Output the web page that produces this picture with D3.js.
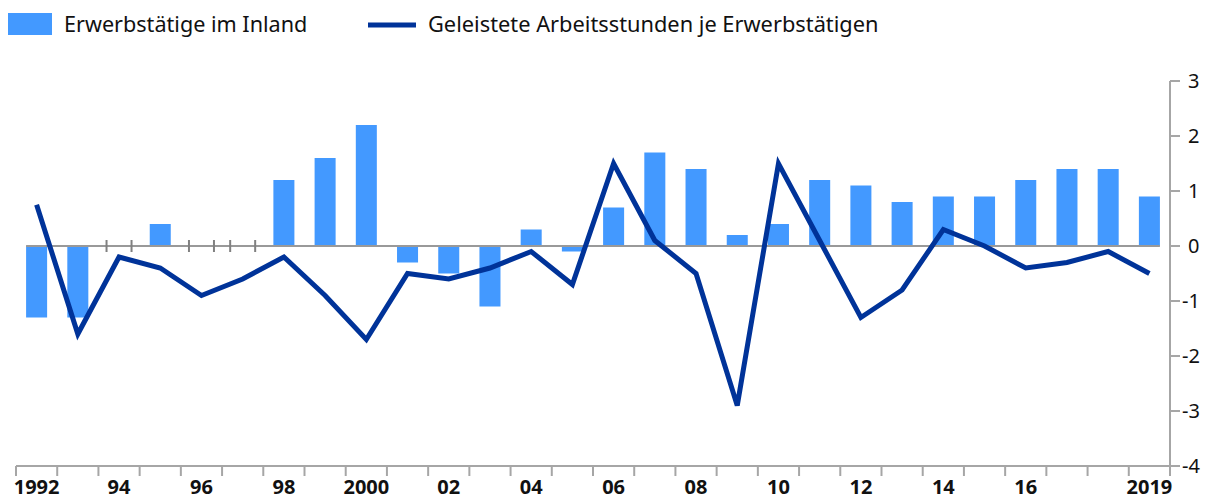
<!DOCTYPE html>
<html>
<head>
<meta charset="utf-8">
<script src="https://cdn.jsdelivr.net/npm/d3@7"></script>
<style>
  body { margin: 0; background: #fff; }
  text { font-family: "Noto Sans", sans-serif; fill: #111; }
</style>
</head>
<body>
<div id="chart"></div>
<script>
// Daten: Veränderung gegenüber Vorjahr in %
const years = d3.range(1992, 2020);
const erwerbstaetige = [-1.3, -1.3, 0, 0.4, 0, 0, 1.2, 1.6, 2.2, -0.3,
  -0.5, -1.1, 0.3, -0.1, 0.7, 1.7, 1.4, 0.2, 0.4, 1.2,
  1.1, 0.8, 0.9, 0.9, 1.2, 1.4, 1.4, 0.9];
const arbeitsstunden = [0.75, -1.6, -0.2, -0.4, -0.9, -0.6, -0.2, -0.9, -1.7, -0.5,
  -0.6, -0.4, -0.1, -0.7, 1.5, 0.1, -0.5, -2.9, 1.5, 0.1,
  -1.3, -0.8, 0.3, 0, -0.4, -0.3, -0.1, -0.5];
const xLabels = ["1992", "94", "96", "98", "2000", "02", "04", "06", "08", "10", "12", "14", "16", "2019"];
const labelYears = [1992, 1994, 1996, 1998, 2000, 2002, 2004, 2006, 2008, 2010, 2012, 2014, 2016, 2019];
const yTicks = [3, 2, 1, 0, -1, -2, -3, -4];
const seriesNames = ["Erwerbstätige im Inland", "Geleistete Arbeitsstunden je Erwerbstätigen"];

const width = 1214, height = 499;
const barColor = "#4399ff", lineColor = "#003399", axisColor = "#a6a6a6";

const svg = d3.select("#chart").append("svg")
    .attr("width", width)
    .attr("height", height);

const x = d3.scaleBand()
    .domain(years)
    .range([16, 1170])
    .paddingInner(0.49)
    .paddingOuter(0.245);

const y = d3.scaleLinear()
    .domain([-4, 3])
    .range([466, 81]);

const step = x.step();
const cx = d => x(d) + x.bandwidth() / 2;

// Balken
svg.append("g")
  .selectAll("rect")
  .data(years.filter((d, i) => erwerbstaetige[i] !== 0))
  .join("rect")
    .attr("x", d => x(d))
    .attr("width", x.bandwidth())
    .attr("y", d => y(Math.max(0, erwerbstaetige[years.indexOf(d)])))
    .attr("height", d => Math.abs(y(erwerbstaetige[years.indexOf(d)]) - y(0)))
    .attr("fill", barColor);

// Nulllinie
svg.append("line")
    .attr("x1", x(years[0]))
    .attr("x2", x(years[years.length - 1]) + x.bandwidth())
    .attr("y1", y(0)).attr("y2", y(0))
    .attr("stroke", "#999")
    .attr("stroke-width", 2);

// kleine Striche bei Nullwerten
const zeroYears = years.filter((d, i) => erwerbstaetige[i] === 0);
svg.append("g")
  .selectAll("line")
  .data(zeroYears.flatMap(d => [cx(d) - 12.5, cx(d) + 12.5]))
  .join("line")
    .attr("x1", d => d).attr("x2", d => d)
    .attr("y1", y(0) - 6).attr("y2", y(0) + 6)
    .attr("stroke", "#808080")
    .attr("stroke-width", 2);

// Linie
const line = d3.line()
    .x((d, i) => cx(years[i]))
    .y(d => y(d));

svg.append("path")
    .datum(arbeitsstunden)
    .attr("d", line)
    .attr("fill", "none")
    .attr("stroke", lineColor)
    .attr("stroke-width", 5);

// rechte Achse
const yAxis = svg.append("g");
yAxis.append("line")
    .attr("x1", 1170).attr("x2", 1170)
    .attr("y1", y(3)).attr("y2", y(-4))
    .attr("stroke", axisColor).attr("stroke-width", 2);
yAxis.selectAll("line.tick")
  .data(yTicks)
  .join("line")
    .attr("class", "tick")
    .attr("x1", 1170).attr("x2", 1180)
    .attr("y1", d => y(d)).attr("y2", d => y(d))
    .attr("stroke", axisColor).attr("stroke-width", 2);
yAxis.selectAll("text")
  .data(yTicks)
  .join("text")
    .attr("x", d => d < 0 ? 1182 : 1188)
    .attr("y", d => y(d))
    .attr("dy", "0.35em")
    .style("font-size", "20px")
    .text(d => d);

// untere Achse
const xAxis = svg.append("g");
xAxis.append("line")
    .attr("x1", 16).attr("x2", 1170)
    .attr("y1", y(-4)).attr("y2", y(-4))
    .attr("stroke", axisColor).attr("stroke-width", 2);
xAxis.selectAll("line.tick")
  .data(d3.range(years.length + 1))
  .join("line")
    .attr("class", "tick")
    .attr("x1", i => 16 + i * step).attr("x2", i => 16 + i * step)
    .attr("y1", y(-4)).attr("y2", y(-4) + 10)
    .attr("stroke", axisColor).attr("stroke-width", 2);
xAxis.selectAll("text")
  .data(labelYears)
  .join("text")
    .attr("x", d => cx(d))
    .attr("y", 494)
    .attr("text-anchor", "middle")
    .style("font-size", "20px")
    .style("font-weight", "bold")
    .text((d, i) => xLabels[i]);

// Legende
const legend = svg.append("g");
legend.append("rect")
    .attr("x", 8).attr("y", 13)
    .attr("width", 44).attr("height", 22)
    .attr("fill", barColor);
legend.append("text")
    .attr("x", 64).attr("y", 32)
    .style("font-size", "21.6px")
    .text(seriesNames[0]);
legend.append("line")
    .attr("x1", 368).attr("x2", 416)
    .attr("y1", 25).attr("y2", 25)
    .attr("stroke", lineColor).attr("stroke-width", 5);
legend.append("text")
    .attr("x", 428).attr("y", 32)
    .style("font-size", "21.8px")
    .text(seriesNames[1]);
</script>
</body>
</html>
